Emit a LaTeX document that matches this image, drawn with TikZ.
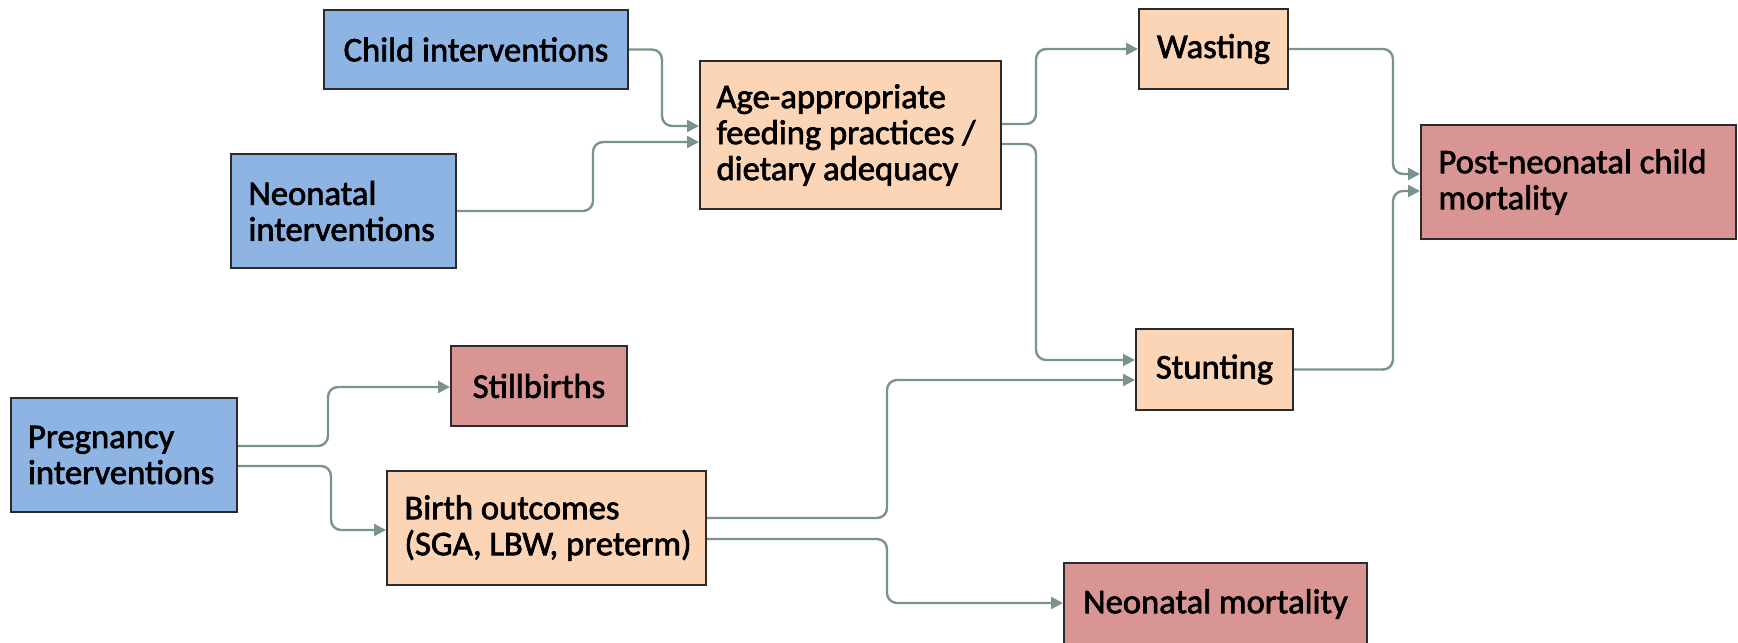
\documentclass[tikz,border=0pt]{standalone}
\usepackage{fontspec}
\setmainfont{Carlito}[FakeBold=2]
\usetikzlibrary{arrows.meta}
\definecolor{blu}{HTML}{8DB4E2}
\definecolor{pch}{HTML}{FBD5B5}
\definecolor{rd}{HTML}{D99594}
\definecolor{ln}{HTML}{7B938E}
\definecolor{bd}{HTML}{2B2B2B}
\begin{document}
\begin{tikzpicture}[x=0.5pt,y=-0.5pt,
  box/.style={draw=bd,line width=1pt,font=\fontsize{17.3}{18}\selectfont,inner sep=0pt},
  conn/.style={draw=ln,line width=1.2pt,rounded corners=5pt,-{Triangle[length=6pt,width=6pt]}}]
\useasboundingbox (0,0) rectangle (1738,642);
% nodes
\node[box,fill=blu,minimum width=152pt,minimum height=39.5pt] (child) at (476,49.5) {Child interventions};
\node[box,fill=blu,minimum width=112.5pt,minimum height=57pt,text width=95pt,align=flush left] (neo) at (343.5,211) {Neonatal\\interventions};
\node[box,fill=pch,minimum width=150.5pt,minimum height=73.5pt,text width=134pt,align=flush left] (age) at (850.5,135) {Age-appropriate\\feeding practices /\\dietary adequacy};
\node[box,fill=pch,minimum width=74.5pt,minimum height=40pt] (wast) at (1213.5,49) {Wasting};
\node[box,fill=rd,minimum width=157.5pt,minimum height=57pt,text width=140pt,align=flush left] (post) at (1578.5,182) {Post-neonatal child\\mortality};
\node[box,fill=pch,minimum width=78.5pt,minimum height=40.5pt] (stunt) at (1214.5,369.5) {Stunting};
\node[box,fill=rd,minimum width=88pt,minimum height=40pt] (still) at (539,386) {Stillbirths};
\node[box,fill=blu,minimum width=113pt,minimum height=57pt,text width=96pt,align=flush left] (preg) at (124,455) {Pregnancy\\interventions};
\node[box,fill=pch,minimum width=159.5pt,minimum height=57pt,text width=142pt,align=flush left] (birth) at (546.5,528) {Birth outcomes\\\mbox{(SGA, LBW, preterm)}};
\node[box,fill=rd,minimum width=151.5pt,minimum height=41pt] (nmort) at (1215.5,604) {Neonatal mortality};
% connectors
\draw[conn] (child.east) -- (662,49.5) -- (662,126) -- (age.west |- 0,126);
\draw[conn] (neo.east) -- (593,211) -- (593,142) -- (age.west |- 0,142);
\draw[conn] (age.east |- 0,124) -- (1036,124) -- (1036,49) -- (wast.west);
\draw[conn] (age.east |- 0,144) -- (1036,144) -- (1036,360) -- (stunt.west |- 0,360);
\draw[conn] (birth.east |- 0,518) -- (887,518) -- (887,380) -- (stunt.west |- 0,380);
\draw[conn] (birth.east |- 0,539) -- (887,539) -- (887,603) -- (nmort.west |- 0,603);
\draw[conn] (wast.east) -- (1393,49) -- (1393,174) -- (post.west |- 0,174);
\draw[conn] (stunt.east) -- (1393,369.5) -- (1393,191) -- (post.west |- 0,191);
\draw[conn] (preg.east |- 0,446) -- (328,446) -- (328,387) -- (still.west |- 0,387);
\draw[conn] (preg.east |- 0,466) -- (331,466) -- (331,530) -- (birth.west |- 0,530);
\end{tikzpicture}
\end{document}
